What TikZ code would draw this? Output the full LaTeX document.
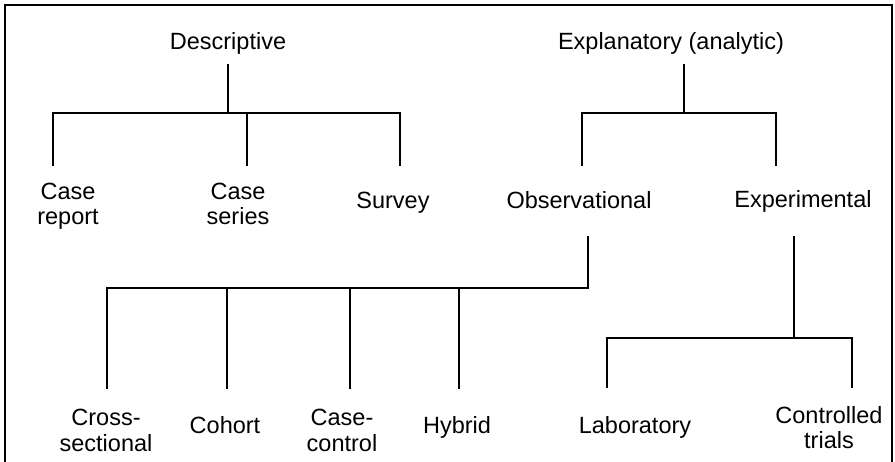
\documentclass[tikz,border=0pt]{standalone}
\usepackage{fontspec}
\setmainfont{Liberation Sans}
\begin{document}
\begin{tikzpicture}[x=1pt,y=-1pt,
  lbl/.style={font=\fontsize{23.5}{25.5}\selectfont, align=center, anchor=base, inner sep=0pt},
  conn/.style={line width=1.2pt, line cap=rect}]
\useasboundingbox (0,0) rectangle (895,462);
% frame (bottom edge lies outside the picture)
\draw[line width=1.2pt] (5,475) -- (5,5) -- (892,5) -- (892,475);

% labels (base = baseline of the last line)
\node[lbl] (desc) at (228,50) {Descriptive};
\node[lbl] (expl) at (671,50) {Explanatory (analytic)};
\node[lbl] (caserep) at (68,225) {Case\\report};
\node[lbl] (caseser) at (238,225) {Case\\series};
\node[lbl] (survey) at (393,209) {Survey};
\node[lbl] (obs) at (579,209) {Observational};
\node[lbl] (exper) at (803,208) {Experimental};
\node[lbl] (cross) at (106,451) {Cross-\\sectional};
\node[lbl] (cohort) at (225,434) {Cohort};
\node[lbl] (casectl) at (342,451) {Case-\\control};
\node[lbl] (hybrid) at (457,434) {Hybrid};
\node[lbl] (lab) at (635,434) {Laboratory};
\node[lbl] (ctrl) at (829,449) {Controlled\\trials};

% junction coordinates
\coordinate (d0) at (228,65);  \coordinate (d1) at (228,113);
\coordinate (dl) at (53,113);  \coordinate (dm) at (247,113); \coordinate (dr) at (400,113);
\coordinate (dlb) at (53,165); \coordinate (dmb) at (247,165); \coordinate (drb) at (400,165);

\coordinate (e0) at (684,65);  \coordinate (e1) at (684,113);
\coordinate (el) at (582,113); \coordinate (er) at (776,113);
\coordinate (elb) at (582,165); \coordinate (erb) at (776,165);

\coordinate (o0) at (588,237); \coordinate (o1) at (588,288);
\coordinate (oa) at (107,288); \coordinate (ob) at (227,288); \coordinate (oc) at (350,288); \coordinate (od) at (459,288);
\coordinate (oab) at (107,388); \coordinate (obb) at (227,388); \coordinate (ocb) at (350,388); \coordinate (odb) at (459,388);

\coordinate (x0) at (794,237); \coordinate (x1) at (794,338);
\coordinate (xl) at (607,338); \coordinate (xr) at (852,338);
\coordinate (xlb) at (607,387); \coordinate (xrb) at (852,387);

% connectors
\draw[conn] (d0) -- (d1);
\draw[conn] (dlb) -- (dl) -- (dr) -- (drb);
\draw[conn] (dm) -- (dmb);

\draw[conn] (e0) -- (e1);
\draw[conn] (elb) -- (el) -- (er) -- (erb);

\draw[conn] (o0) -- (o1) -- (oa) -- (oab);
\draw[conn] (ob) -- (obb);
\draw[conn] (oc) -- (ocb);
\draw[conn] (od) -- (odb);

\draw[conn] (x0) -- (x1);
\draw[conn] (xlb) -- (xl) -- (xr) -- (xrb);
\end{tikzpicture}
\end{document}
